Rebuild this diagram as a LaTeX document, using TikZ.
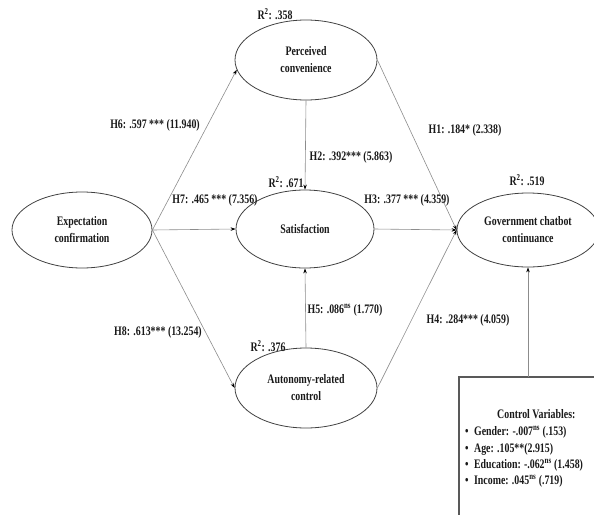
\documentclass[tikz,border=0pt]{standalone}
\usepackage{fontspec}
\setmainfont{Liberation Serif}[FakeStretch=0.76]
\usetikzlibrary{shapes.geometric,arrows.meta}
\begin{document}
\begin{tikzpicture}[x=1pt,y=-1pt,
  font=\fontsize{13}{17}\selectfont\bfseries,
  construct/.style={ellipse,draw=black!75,line width=0.8pt,inner sep=0pt,align=center,text=black!90},
  path/.style={draw=black!45,line width=0.6pt,-{Stealth[length=5pt,width=3.5pt,black]}},
  lbl/.style={inner sep=0pt,text=black!90},
  ctrl/.style={draw=black!65,line width=1.2pt}]
\useasboundingbox (0,0) rectangle (594,514);
\node[construct,minimum width=140pt,minimum height=76pt] (ec) at (82,230) {Expectation\\confirmation};
\node[construct,minimum width=142pt,minimum height=80pt] (pc) at (306,60) {Perceived\\convenience};
\node[construct,minimum width=138pt,minimum height=78pt] (sat) at (305,229) {Satisfaction};
\node[construct,minimum width=142pt,minimum height=80pt] (ac) at (306,388) {Autonomy-related\\control};
\node[construct,minimum width=142pt,minimum height=74pt] (gc) at (528,230) {Government chatbot\\continuance};
\draw[ctrl] (600,520) -- (459,520) -- (459,377) -- (600,377);
\coordinate (cbtop) at (528,377);
\node[lbl,anchor=west] (cvt) at (497,414) {Control Variables:};
\node[lbl,anchor=west] (cv1) at (465,432) {\textbullet\hspace{3pt} Gender: -.007\textsuperscript{ns} (.153)};
\node[lbl,anchor=west] (cv2) at (465,449) {\textbullet\hspace{3pt} Age: .105**(2.915)};
\node[lbl,anchor=west] (cv3) at (465,465) {\textbullet\hspace{3pt} Education: -.062\textsuperscript{ns} (1.458)};
\node[lbl,anchor=west] (cv4) at (465,481) {\textbullet\hspace{3pt} Income: .045\textsuperscript{ns} (.719)};
\draw[path] (ec.east) -- (pc.188);
\draw[path] (ec.east) -- (sat.west);
\draw[path] (ec.east) -- (ac.west);
\draw[path] (pc.south) -- (sat.north);
\draw[path] (ac.north) -- (sat.south);
\draw[path] (pc.east) -- (gc.west);
\draw[path] (sat.east) -- (gc.west);
\draw[path] (ac.east) -- (gc.west);
\draw[path] (cbtop) -- (gc.south);
\node[lbl] (r1) at (275,14) {R\textsuperscript{2}: .358};
\node[lbl] (r2) at (286,182) {R\textsuperscript{2}: .671};
\node[lbl] (r3) at (527,180) {R\textsuperscript{2}: .519};
\node[lbl] (r4) at (268,346) {R\textsuperscript{2}: .376};
\node[lbl] (h6) at (155,125) {H6: .597 *** (11.940)};
\node[lbl] (h7) at (215,200) {H7: .465 *** (7.356)};
\node[lbl] (h2) at (351,157) {H2: .392*** (5.863)};
\node[lbl] (h1) at (465,130) {H1: .184* (2.338)};
\node[lbl] (h3) at (407,200) {H3: .377 *** (4.359)};
\node[lbl] (h8) at (158,332) {H8: .613*** (13.254)};
\node[lbl] (h5) at (345,310) {H5: .086\textsuperscript{ns} (1.770)};
\node[lbl] (h4) at (468,320) {H4: .284*** (4.059)};
\end{tikzpicture}
\end{document}
